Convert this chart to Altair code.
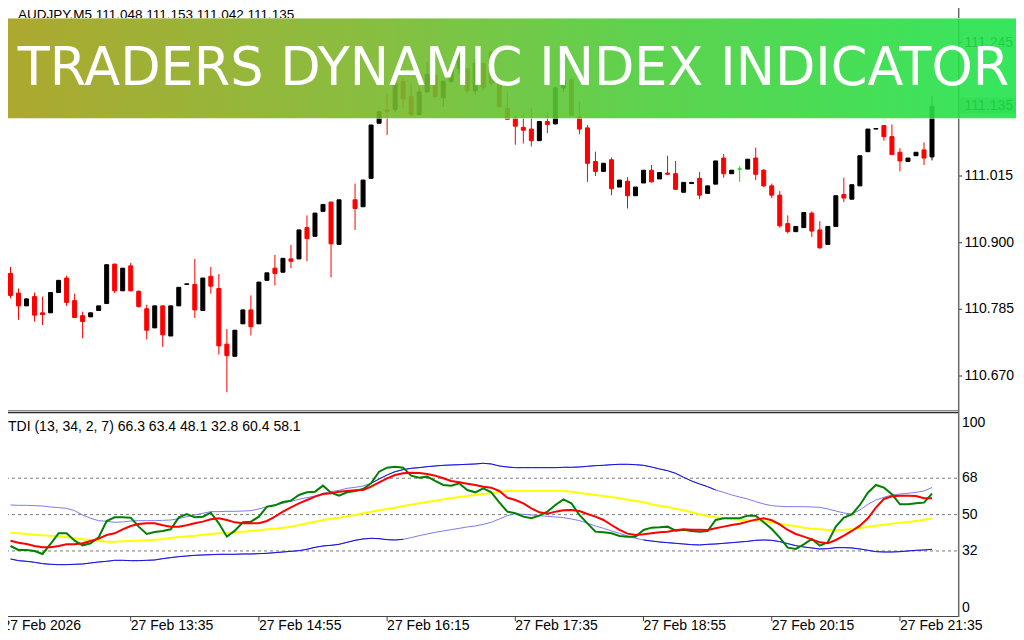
import altair as alt
import pandas as pd

# ---------------- data ----------------
# AUDJPY M5 candles, bar 0 = 27 Feb 12:20 ... bar 115 = 21:55 (None = not visible)
opens = [110.847, 110.813, 110.791, 110.807, 110.779, 110.779, 110.814, 110.839, 110.800, 110.774,
         110.772, 110.783, 110.795, 110.863, 110.817, 110.860, 110.816, 110.786, 110.753, 110.791,
         110.739, 110.791, 110.828, 110.828, 110.783, 110.842, 110.821, 110.725, 110.704, 110.760,
         110.784, 110.760, 110.835, 110.856, 110.849, 110.872, 110.872, 110.926, 110.911, 110.954,
         110.970, 110.897, None, 110.974, 110.962, 111.011, 111.106, 111.129, 111.130, 111.178,
         111.152, 111.121, 111.160, 111.189, 111.150, 111.178, 111.200, 111.200, 111.162, 111.209,
         111.229, 111.175, 111.132, 111.115, 111.099, 111.096, 111.076, 111.109, 111.105, 111.167,
         111.181, 111.117, 111.098, 111.040, 111.023, 111.043, 110.996, 111.006, 110.981, 111.003,
         111.025, 111.010, 111.020, 111.019, 110.987, 111.002, 111.011, 110.985, 111.001, 111.046,
         111.019, 111.027, 111.027, 111.046, 111.025, 110.998, 110.982, 110.933, 110.919, 110.926,
         110.951, 110.922, 110.897, 110.928, 110.983, 110.975, 110.998, 111.057, 111.096, 111.102,
         111.083, 111.056, 111.040, 111.050, 111.060, 111.048]
highs = [110.858, 110.821, 110.804, 110.814, 110.807, 110.814, 110.835, 110.843, 110.812, 110.781,
         110.779, 110.791, 110.862, 110.864, 110.856, 110.865, 110.818, 110.793, 110.791, 110.791,
         110.791, 110.823, 110.829, 110.872, 110.839, 110.858, 110.846, 110.751, 110.749, 110.784,
         110.809, 110.832, 110.848, 110.879, 110.873, 110.896, 110.922, 110.947, 110.951, 110.966,
         110.971, 110.974, None, 111.002, 111.008, 111.103, 111.126, 111.155, 111.186, 111.184,
         111.175, 111.169, 111.212, 111.190, 111.180, 111.207, 111.227, 111.201, 111.218, 111.210,
         111.230, 111.178, 111.160, 111.120, 111.123, 111.132, 111.109, 111.124, 111.170, 111.190,
         111.185, 111.143, 111.103, 111.057, 111.037, 111.047, 111.008, 111.013, 110.996, 111.025,
         111.034, 111.021, 111.050, 111.041, 111.004, 111.004, 111.022, 110.998, 111.041, 111.053,
         111.025, 111.032, 111.044, 111.064, 111.027, 111.002, 110.989, 110.947, 110.928, 110.952,
         110.954, 110.937, 110.928, 110.981, 111.012, 111.000, 111.050, 111.096, 111.097, 111.103,
         111.104, 111.063, 111.046, 111.056, 111.073, 111.153]
lows = [110.804, 110.767, 110.791, 110.764, 110.758, 110.779, 110.814, 110.791, 110.771, 110.735,
        110.772, 110.783, 110.795, 110.813, 110.817, 110.816, 110.788, 110.733, 110.753, 110.720,
        110.739, 110.791, 110.828, 110.770, 110.783, 110.812, 110.707, 110.642, 110.704, 110.760,
        110.740, 110.760, 110.835, 110.826, 110.849, 110.856, 110.872, 110.868, 110.911, 110.954,
        110.840, 110.897, None, 110.922, 110.962, 111.011, 111.106, 111.086, 111.125, 111.132,
        111.118, 111.120, 111.158, 111.150, 111.134, 111.176, 111.192, 111.158, 111.155, 111.163,
        111.170, 111.133, 111.112, 111.069, 111.071, 111.066, 111.076, 111.089, 111.104, 111.160,
        111.118, 111.087, 111.005, 111.015, 111.023, 110.982, 110.996, 110.959, 110.981, 111.003,
        111.004, 111.010, 111.017, 110.991, 110.987, 111.002, 110.975, 110.985, 111.001, 111.012,
        111.019, 111.005, 111.027, 111.008, 110.996, 110.977, 110.926, 110.916, 110.919, 110.926,
        110.910, 110.890, 110.897, 110.928, 110.970, 110.975, 110.998, 111.057, 111.096, 111.076,
        111.051, 111.023, 111.040, 111.050, 111.034, 111.042]
closes = [110.809, 110.791, 110.803, 110.775, 110.776, 110.814, 110.835, 110.797, 110.771, 110.764,
          110.779, 110.791, 110.862, 110.817, 110.856, 110.817, 110.790, 110.749, 110.791, 110.741,
          110.791, 110.823, 110.829, 110.784, 110.839, 110.825, 110.722, 110.705, 110.749, 110.784,
          110.755, 110.832, 110.848, 110.847, 110.873, 110.868, 110.922, 110.907, 110.951, 110.966,
          110.898, 110.974, None, 110.959, 111.008, 111.103, 111.126, 111.126, 111.175, 111.148,
          111.121, 111.160, 111.190, 111.152, 111.178, 111.200, 111.220, 111.162, 111.210, 111.168,
          111.175, 111.135, 111.113, 111.101, 111.094, 111.076, 111.109, 111.104, 111.167, 111.180,
          111.120, 111.096, 111.037, 111.023, 111.037, 110.993, 111.008, 110.981, 110.996, 111.025,
          111.005, 111.021, 111.018, 110.992, 111.004, 111.004, 110.982, 110.998, 111.041, 111.019,
          111.025, 111.027, 111.044, 111.018, 110.998, 110.982, 110.929, 110.919, 110.928, 110.952,
          110.920, 110.891, 110.928, 110.981, 110.977, 111.000, 111.050, 111.096, 111.097, 111.083,
          111.052, 111.041, 111.046, 111.056, 111.046, 111.135]

# Traders Dynamic Index lines, one value per bar
tdi_green = [34.46, 32.48, 32.48, 31.99, 30.5, 35.45, 40.73, 40.73, 37.1, 34.79, 35.78, 38.75, 46.84, 48.65,
             48.65, 48.49, 44.03, 40.4, 41.39, 41.89, 42.71, 48.65, 50.3, 48.65, 48.98, 50.96, 45.68, 39.08,
             42.05, 46.17, 46.5, 48.98, 53.93, 54.59, 56.24, 56.9, 59.71, 61.03, 61.36, 64.33, 60.86,
             59.38, 61.03, 61.69, 62.68, 65.49, 71.26, 73.24, 73.74, 73.24, 69.28, 68.29, 68.79, 66.64,
             64.66, 64.33, 65.49, 62.19, 61.03, 63.01, 61.03, 56.08, 51.46,
             50.63, 48.99, 48.16, 49.48, 51.46, 54.76, 57.57, 55.59, 49.81, 45.68, 41.56, 41.23, 40.73,
             39.41, 39.08, 39.08, 42.38, 43.54, 43.71, 44.04, 42.06, 42.55, 41.89, 41.56, 41.89, 47.33,
             48.16, 48.16, 48.16, 49.48, 49.48, 46.18, 42.88, 38.59, 33.64, 32.98, 35.29, 37.93, 34.63,
             36.28, 44.04, 48.49, 50.14, 54.76, 60.86, 64.66, 63.34, 60.04, 55.09, 55.09, 55.59, 55.92, 60.4]
tdi_red = [37.1, 36.11, 35.45, 34.46, 33.8, 33.8, 34.46, 35.29, 35.29, 35.78, 36.94, 38.09, 39.91, 40.73,
           42.71, 44.36, 45.35, 45.68, 45.68, 44.69, 44.03, 44.03, 44.69, 45.68, 46.51, 47.66, 48.16, 47.33,
           46.17, 45.68, 45.68, 45.68, 46.84, 48.98, 51.46, 53.6, 55.58, 57.23, 58.88, 60.2, 60.53,
           61.36, 61.69, 62.02, 62.19, 63.83, 65.98, 67.96, 69.61, 70.44, 70.77, 70.6, 70.11, 69.28,
           67.96, 66.64, 65.98, 65.32, 64.66, 63.83, 63.34, 61.69, 58.39,
           57.24, 55.59, 53.11, 51.13, 50.47, 51.46, 52.12, 52.29, 51.79, 50.31, 48.99, 47.34, 44.86,
           42.39, 40.57, 39.91, 40.24, 40.73, 41.23, 41.56, 42.22, 42.72, 42.55, 42.55, 42.39, 43.21,
           44.04, 44.86, 45.52, 46.51, 47.5, 48.16, 47.17, 45.19, 42.39, 40.4, 39.08, 37.76, 36.28,
           35.79, 37.43, 39.58, 41.89, 44.53, 48.16, 53.44, 57.73, 59.05, 59.38, 59.38, 59.21, 58.06, 58.1]
tdi_yellow = [41.06, 40.73, 40.4, 40.07, 39.74, 39.58, 39.25, 38.75, 38.26, 37.76, 37.43, 37.1, 36.61, 36.61,
              36.77, 36.94, 37.1, 37.27, 37.6, 37.93, 38.42, 38.92, 39.25, 39.58, 40.07, 40.4, 40.73, 40.9,
              41.23, 41.56, 41.89, 42.22, 42.71, 43.04, 43.54, 44.03, 44.86, 45.68, 46.51, 47.33, 47.99,
              48.49, 49.15, 49.81, 50.64, 51.46, 52.12, 52.78, 53.44, 54.27, 54.93, 55.59, 56.25, 56.91,
              57.57, 58.06, 58.72, 59.22, 59.71, 60.2, 60.7, 61.19, 61.69,
              61.69, 61.69, 61.69, 61.69, 61.69, 61.69, 61.69, 61.36, 60.7, 60.2, 59.71, 59.22, 58.72,
              58.06, 57.4, 56.74, 56.08, 55.09, 54.43, 53.77, 52.94, 52.12, 51.13, 50.14, 49.32, 48.66,
              48.16, 47.83, 47.5, 47.34, 47.01, 46.68, 46.18, 45.52, 44.86, 44.2, 43.54, 43.05, 42.72,
              42.39, 42.39, 42.55, 42.88, 43.38, 44.04, 44.53, 45.03, 45.52, 46.01, 46.35, 46.84, 47.4, 48.1]
tdi_upper = [54.76, 54.59, 54.59, 54.43, 54.26, 53.77, 53.44, 53.11, 51.95, 49.81, 48.16, 47.0, 46.67, 46.18,
             46.34, 46.84, 47.0, 47.0, 47.0, 47.17, 47.33, 47.99, 48.98, 49.81, 50.63, 51.46, 51.46, 51.62,
             51.62, 51.78, 51.95, 52.78, 53.93, 54.76, 55.58, 56.57, 57.56, 58.39, 59.21, 60.53, 61.36,
             62.02, 63.01, 63.5, 64.16, 65.49, 67.63, 69.61, 71.26, 72.25, 72.91, 73.24, 73.74, 74.06,
             74.39, 74.56, 74.72, 74.89, 75.06, 75.39, 75.06, 74.06, 73.57,
             73.24, 73.24, 73.24, 73.24, 73.24, 73.24, 73.41, 73.41, 73.57, 73.9, 74.23, 74.39, 74.72,
             74.89, 74.89, 74.72, 74.39, 73.57, 72.58, 71.75, 70.44, 68.46, 66.64, 65.16, 63.83, 62.19,
             61.03, 59.71, 58.72, 57.73, 56.41, 55.25, 54.43, 54.1, 53.93, 53.93, 53.93, 53.77, 53.61,
             52.78, 51.79, 50.8, 50.31, 52.29, 55.09, 57.24, 58.55, 59.71, 60.2, 60.53, 61.03, 61.69, 63.4]
tdi_lower = [28.03, 27.2, 26.87, 26.38, 25.72, 25.39, 25.22, 25.22, 25.39, 25.55, 26.05, 26.54, 26.87, 27.37,
             27.37, 27.2, 27.2, 27.37, 27.53, 28.19, 28.69, 29.18, 29.51, 29.84, 30.01, 30.17, 30.34, 30.34,
             30.34, 30.5, 30.5, 30.67, 30.83, 31.16, 31.49, 31.82, 32.15, 32.81, 33.8, 34.46, 34.79,
             35.29, 36.28, 37.27, 37.93, 38.26, 38.09, 37.6, 37.43, 37.76, 38.59, 39.58, 40.4, 41.23,
             41.89, 42.55, 43.21, 43.87, 44.37, 45.19, 46.18, 47.83, 49.48,
             50.47, 50.14, 49.81, 49.48, 49.15, 48.82, 48.49, 47.83, 47.01, 45.68, 44.37, 43.21, 41.89,
             40.73, 39.41, 38.26, 37.43, 36.94, 36.44, 36.11, 35.78, 35.45, 35.12, 34.96, 35.29, 35.45,
             35.78, 36.11, 36.44, 36.77, 37.27, 37.43, 37.27, 36.61, 35.62, 34.63, 33.97, 33.48, 32.98,
             33.15, 33.64, 33.64, 33.48, 32.98, 32.32, 31.66, 31.5, 31.5, 31.66, 31.99, 32.32, 32.49, 32.8]

# band segments that are drawn in the darker blue
upper_dark_bars = [45, 88]
lower_dark_bars_a = [0, 49]
lower_dark_bars_b = [79, 115]

price_ticks = [111.245, 111.015, 110.900, 110.785, 110.670]
price_tick_labels = ["111.245", "111.015", "110.900", "110.785", "110.670"]
bid_price = [111.135]
bid_label = ["111.135"]
tdi_levels = [68, 50, 32]
tdi_mid_labels = ["68", "50", "32"]
time_label_bars = [-1, 15, 31, 47, 63, 79, 95, 111]
time_labels = ["27 Feb 2026", "27 Feb 13:35", "27 Feb 14:55", "27 Feb 16:15",
               "27 Feb 17:35", "27 Feb 18:55", "27 Feb 20:15", "27 Feb 21:35"]
title_text = "AUDJPY,M5  111.048 111.153 111.042 111.135"
tdi_text = "TDI (13, 34, 2, 7) 66.3 63.4 48.1 32.8 60.4 58.1"
banner_text = "TRADERS DYNAMIC INDEX INDICATOR"

# ---------------- scales ----------------
N = len(closes)
W, H = 1008, 624
XS = alt.Scale(domain=[0, 115], range=[-2.5, 929.0])
PS = alt.Scale(domain=[110.670, 111.245], range=[368.0, 34.7])
IS = alt.Scale(domain=[0, 100], range=[607.6, 405.6])
DIRS = alt.Scale(domain=["up", "down", "flat"], range=["#000000", "#FF0000", "#00E000"])
FONT = "Liberation Sans"

X = alt.X("i:Q", scale=XS, axis=None)

cdf = pd.DataFrame({"i": list(range(N)), "o": opens, "h": highs, "l": lows, "c": closes}).dropna()
cdf["dir"] = ["up" if c > o else ("down" if c < o else "flat") for o, c in zip(cdf["o"], cdf["c"])]

tdf = pd.DataFrame({"i": list(range(N)), "green": tdi_green, "red": tdi_red, "yellow": tdi_yellow,
                    "upper": tdi_upper, "lower": tdi_lower})

one = pd.DataFrame({"k": [0]})

layers = []

# right price axis
layers.append(alt.Chart(one).mark_rect(color="#C4C4C4").encode(
    x=alt.value(952), x2=alt.value(W), y=alt.value(89.7), y2=alt.value(105.5)))
layers.append(alt.Chart(pd.DataFrame({"p": bid_price, "t": bid_label})).mark_text(
    align="left", baseline="middle", font=FONT, fontSize=14, color="#000000").encode(
    x=alt.value(956.5), y=alt.Y("p:Q", scale=PS, axis=None), text="t:N"))
pt = pd.DataFrame({"p": price_ticks, "t": price_tick_labels})
layers.append(alt.Chart(pt).mark_rule(color="#333333", strokeWidth=1).encode(
    x=alt.value(950), x2=alt.value(954), y=alt.Y("p:Q", scale=PS, axis=None)))
layers.append(alt.Chart(pt).mark_text(
    align="left", baseline="middle", font=FONT, fontSize=14, color="#000000").encode(
    x=alt.value(956.5), y=alt.Y("p:Q", scale=PS, axis=None), text="t:N"))

# candles
cb = alt.Chart(cdf).encode(x=X)
layers.append(cb.mark_rule(strokeWidth=1).encode(
    y=alt.Y("l:Q", scale=PS, axis=None), y2="h:Q",
    color=alt.Color("dir:N", scale=DIRS, legend=None)))
layers.append(cb.mark_bar(size=4, strokeWidth=1).encode(
    y=alt.Y("o:Q", scale=PS, axis=None), y2="c:Q",
    fill=alt.Fill("dir:N", scale=DIRS, legend=None),
    stroke=alt.Stroke("dir:N", scale=DIRS, legend=None)))

# indicator panel
layers.append(alt.Chart(pd.DataFrame({"v": tdi_levels})).mark_rule(
    color="#7A7A7A", strokeWidth=1, strokeDash=[3, 3]).encode(
    x=alt.value(-8), x2=alt.value(950), y=alt.Y("v:Q", scale=IS, axis=None)))

tb = alt.Chart(tdf).encode(x=X)
LIGHT = "#7C7CEC"
DARK = "#1414E0"
layers.append(tb.mark_line(color=LIGHT, strokeWidth=1).encode(y=alt.Y("upper:Q", scale=IS, axis=None)))
layers.append(tb.mark_line(color=DARK, strokeWidth=1).encode(y=alt.Y("upper:Q", scale=IS, axis=None))
              .transform_filter(alt.FieldRangePredicate(field="i", range=upper_dark_bars)))
layers.append(tb.mark_line(color=LIGHT, strokeWidth=1).encode(y=alt.Y("lower:Q", scale=IS, axis=None)))
layers.append(tb.mark_line(color=DARK, strokeWidth=1).encode(y=alt.Y("lower:Q", scale=IS, axis=None))
              .transform_filter(alt.FieldRangePredicate(field="i", range=lower_dark_bars_a)))
layers.append(tb.mark_line(color=DARK, strokeWidth=1).encode(y=alt.Y("lower:Q", scale=IS, axis=None))
              .transform_filter(alt.FieldRangePredicate(field="i", range=lower_dark_bars_b)))
layers.append(tb.mark_line(color="#FFFF00", strokeWidth=2).encode(y=alt.Y("yellow:Q", scale=IS, axis=None)))
layers.append(tb.mark_line(color="#008000", strokeWidth=2).encode(y=alt.Y("green:Q", scale=IS, axis=None)))
layers.append(tb.mark_line(color="#FF0000", strokeWidth=2).encode(y=alt.Y("red:Q", scale=IS, axis=None)))

lv = pd.DataFrame({"v": tdi_levels, "t": tdi_mid_labels})
layers.append(alt.Chart(lv).mark_text(align="left", baseline="middle", font=FONT, fontSize=14,
                                      color="#000000").encode(
    x=alt.value(954), y=alt.Y("v:Q", scale=IS, axis=None), text="t:N"))
layers.append(alt.Chart(pd.DataFrame({"v": [100], "t": ["100"]})).mark_text(
    align="left", baseline="middle", font=FONT, fontSize=14, color="#000000", dy=9.5).encode(
    x=alt.value(954), y=alt.Y("v:Q", scale=IS, axis=None), text="t:N"))
layers.append(alt.Chart(pd.DataFrame({"v": [0], "t": ["0"]})).mark_text(
    align="left", baseline="middle", font=FONT, fontSize=14, color="#000000", dy=-7.6).encode(
    x=alt.value(954), y=alt.Y("v:Q", scale=IS, axis=None), text="t:N"))

# frame lines
layers.append(alt.Chart(one).mark_rule(color="#8A8A8A", strokeWidth=1).encode(
    x=alt.value(-8), x2=alt.value(951), y=alt.value(402.5)))
layers.append(alt.Chart(one).mark_rule(color="#2A2A2A", strokeWidth=1.5).encode(
    x=alt.value(-8), x2=alt.value(951), y=alt.value(404.5)))
layers.append(alt.Chart(one).mark_rule(color="#444444", strokeWidth=1).encode(
    x=alt.value(-8), x2=alt.value(951), y=alt.value(608.5)))
layers.append(alt.Chart(one).mark_rule(color="#6A6A6A", strokeWidth=1.5).encode(
    x=alt.value(950.7), y=alt.value(-8), y2=alt.value(609)))

# time axis
tl = pd.DataFrame({"i": time_label_bars, "t": time_labels})
layers.append(alt.Chart(tl).mark_rule(color="#444444", strokeWidth=1).encode(
    x=X, y=alt.value(609), y2=alt.value(613)))
layers.append(alt.Chart(tl).mark_text(align="left", baseline="alphabetic", font=FONT, fontSize=14,
                                      color="#000000").encode(
    x=X, y=alt.value(622), text="t:N"))

# header texts
layers.append(alt.Chart(pd.DataFrame({"t": [title_text]})).mark_text(
    align="left", baseline="alphabetic", font=FONT, fontSize=13.5, color="#000000").encode(
    x=alt.value(10), y=alt.value(10.5), text="t:N"))
layers.append(alt.Chart(pd.DataFrame({"t": [tdi_text]})).mark_text(
    align="left", baseline="alphabetic", font=FONT, fontSize=14, color="#000000").encode(
    x=alt.value(0), y=alt.value(422.5), text="t:N"))

# banner
grad = alt.LinearGradient(
    gradient="linear", x1=0, x2=1, y1=0, y2=0,
    stops=[alt.GradientStop(color="#A59E18", offset=0),
           alt.GradientStop(color="#7DB62A", offset=0.35),
           alt.GradientStop(color="#4ECC3A", offset=0.62),
           alt.GradientStop(color="#1FE44C", offset=1)])
layers.append(alt.Chart(one).mark_rect(fill=grad, opacity=0.9).encode(
    x=alt.value(-8), x2=alt.value(W), y=alt.value(10), y2=alt.value(110.5)))
layers.append(alt.Chart(one).mark_rule(color="#FFFFFF", strokeWidth=1, opacity=0.45).encode(
    x=alt.value(-8), x2=alt.value(W), y=alt.value(10.5)))
layers.append(alt.Chart(one).mark_rule(color="#FFFFFF", strokeWidth=1, opacity=0.45).encode(
    x=alt.value(-8), x2=alt.value(W), y=alt.value(110.5)))
layers.append(alt.Chart(pd.DataFrame({"t": [banner_text]})).mark_text(
    align="center", baseline="alphabetic", font="DejaVu Sans", fontSize=52.5,
    color="#FFFFFF").encode(x=alt.value(505.5), y=alt.value(77), text="t:N"))

chart = alt.layer(*layers).resolve_scale(y="independent").properties(
    width=W, height=H,
    autosize=alt.AutoSizeParams(type="none"),
    padding=0, background="#FFFFFF",
).configure_view(strokeWidth=0)

chart.save("out.html", embed_options={"renderer": "svg", "actions": False})
